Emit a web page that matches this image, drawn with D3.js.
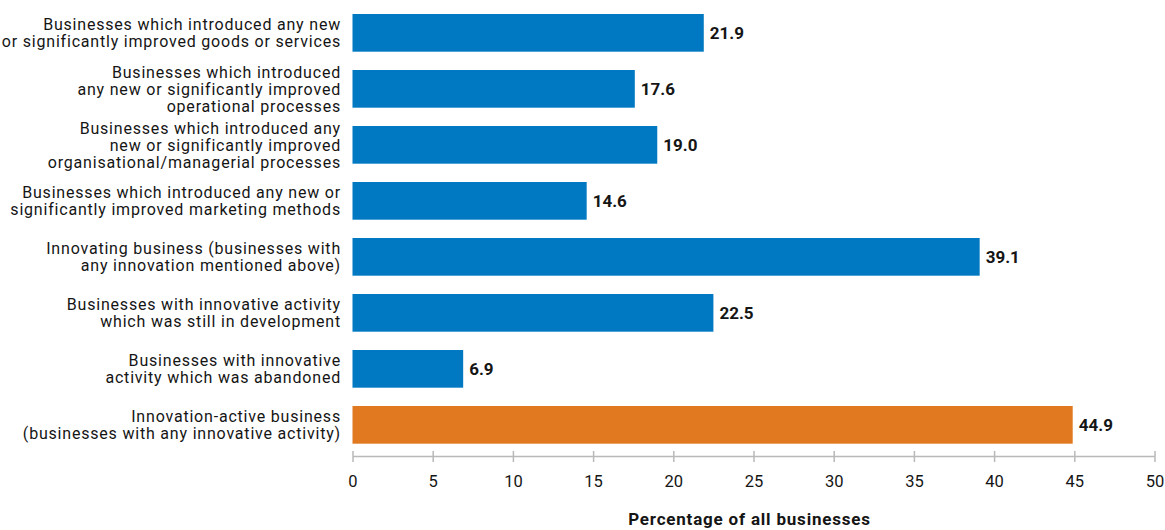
<!DOCTYPE html>
<html>
<head>
<meta charset="utf-8">
<script src="https://cdn.jsdelivr.net/npm/d3@7"></script>
<style>
  html, body { margin: 0; padding: 0; background: #fff; }
  svg { display: block; }
  text { font-family: Roboto, "Noto Sans", sans-serif; }
</style>
</head>
<body>
<svg id="chart" width="1165" height="530"></svg>
<script>
// Category labels, one array entry per wrapped line
const categories = [
  ["Businesses which introduced any new", "or significantly improved goods or services"],
  ["Businesses which introduced", "any new or significantly improved", "operational processes"],
  ["Businesses which introduced any", "new or significantly improved", "organisational/managerial processes"],
  ["Businesses which introduced any new or", "significantly improved marketing methods"],
  ["Innovating business (businesses with", "any innovation mentioned above)"],
  ["Businesses with innovative activity", "which was still in development"],
  ["Businesses with innovative", "activity which was abandoned"],
  ["Innovation-active business", "(businesses with any innovative activity)"]
];
const values = [21.9, 17.6, 19.0, 14.6, 39.1, 22.5, 6.9, 44.9];
const highlighted = [false, false, false, false, false, false, false, true];
const xTicks = [0, 5, 10, 15, 20, 25, 30, 35, 40, 45, 50];
const xTitle = "Percentage of all businesses";

const svg = d3.select("#chart");
const plotLeft = 352.5, plotRight = 1154.5;
const plotTop = 14, step = 56;

const x = d3.scaleLinear().domain([0, 50]).range([plotLeft, plotRight]);
const y = d3.scaleBand()
  .domain(d3.range(values.length))
  .range([plotTop, plotTop + step * (values.length - 0.327)])
  .paddingInner(0.327)
  .paddingOuter(0);

const BLUE = "#0179c2", ORANGE = "#e0791f";
const INK = "#151515";

// Bars
svg.append("g").selectAll("rect")
  .data(values)
  .join("rect")
  .attr("x", x(0))
  .attr("y", (d, i) => y(i))
  .attr("width", d => x(d) - x(0))
  .attr("height", y.bandwidth())
  .attr("fill", (d, i) => highlighted[i] ? ORANGE : BLUE);

// Value labels
svg.append("g").selectAll("text")
  .data(values)
  .join("text")
  .attr("x", d => x(d) + 6)
  .attr("y", (d, i) => y(i) + y.bandwidth() / 2)
  .attr("dy", "0.36em")
  .attr("font-size", 17)
  .attr("font-weight", 700)
  .attr("fill", INK)
  .text(d => d.toFixed(1));

// Category labels, right-aligned and centred on each bar
const lineH = 17;
const cat = svg.append("g").selectAll("text")
  .data(categories)
  .join("text")
  .attr("text-anchor", "end")
  .attr("font-size", 16)
  .attr("letter-spacing", 0.8)
  .attr("fill", INK);
cat.each(function(lines, i) {
  const cy = y(i) + y.bandwidth() / 2;
  const y0 = cy - (lines.length - 1) * lineH / 2;
  d3.select(this).selectAll("tspan")
    .data(lines)
    .join("tspan")
    .attr("x", 341)
    .attr("y", (d, j) => y0 + j * lineH)
    .attr("dy", "0.36em")
    .text(d => d);
});

// X axis
const axis = svg.append("g")
  .attr("transform", "translate(0,456)")
  .call(d3.axisBottom(x).tickValues(xTicks).tickSize(0).tickPadding(0).tickFormat(d3.format("d")));
axis.select(".domain").attr("stroke", "#b9b9b9").attr("stroke-width", 1.5);
axis.selectAll(".tick line").remove();
axis.selectAll(".tick").append("line")
  .attr("y1", -5).attr("y2", 6)
  .attr("stroke", "#b9b9b9").attr("stroke-width", 1.5);
axis.selectAll(".tick text")
  .attr("y", 31)
  .attr("dy", 0)
  .attr("font-size", 16.5)
  .attr("font-family", "Roboto, sans-serif")
  .attr("fill", INK);

// Axis title
svg.append("text")
  .attr("x", (plotLeft + plotRight) / 2 - 4)
  .attr("y", 525)
  .attr("text-anchor", "middle")
  .attr("font-size", 17)
  .attr("font-weight", 700)
  .attr("letter-spacing", 0.8)
  .attr("fill", INK)
  .text(xTitle);
</script>
</body>
</html>
